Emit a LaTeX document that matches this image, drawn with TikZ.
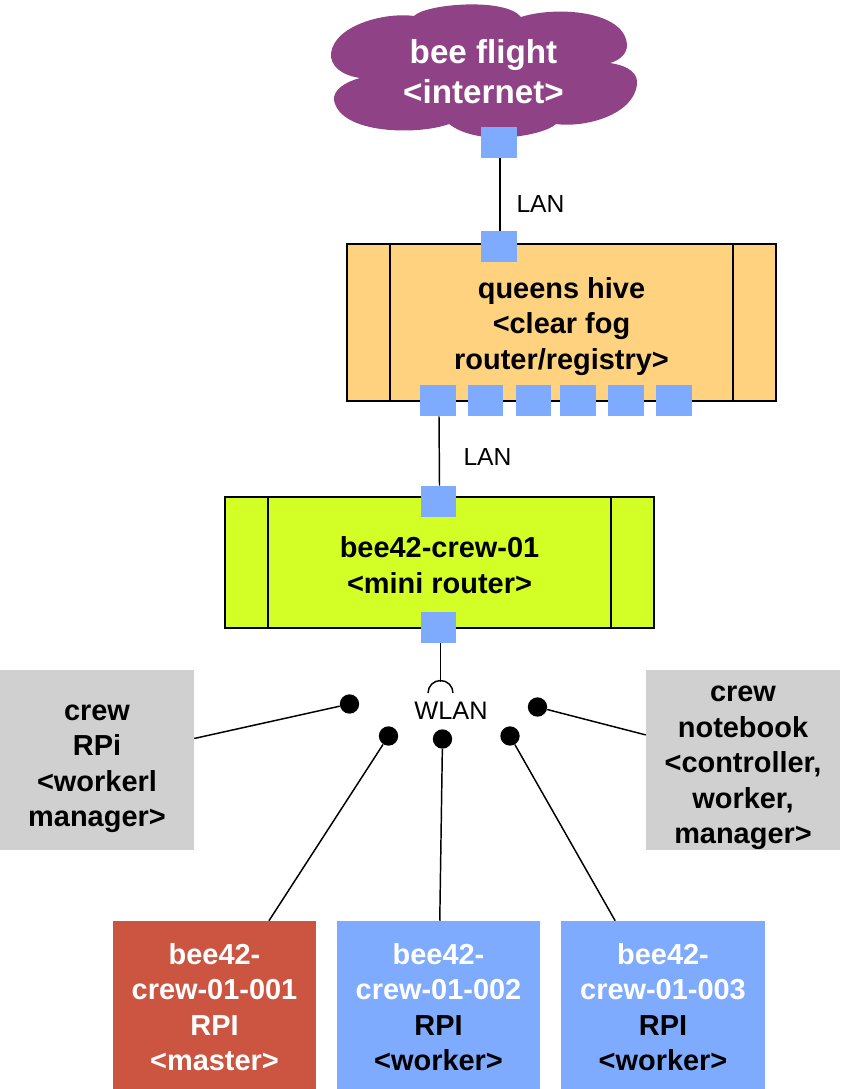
\documentclass[tikz,border=0pt]{standalone}
\usepackage{fontspec}
\setmainfont{Liberation Sans}
\definecolor{cloudpurple}{HTML}{8F4285}
\definecolor{portblue}{HTML}{7FABFF}
\definecolor{hiveorange}{HTML}{FFD27F}
\definecolor{routerlime}{HTML}{D4FF26}
\definecolor{crewgray}{HTML}{D0D0D0}
\definecolor{masterred}{HTML}{CB5540}
\newcommand{\pushtext}[1]{\rule{0pt}{#1}}
\begin{document}
\begin{tikzpicture}[
        x=0.75pt, y=-0.75pt,
        link/.style={draw, line width=1.1pt},
        port/.style={fill=portblue, minimum width=26.6pt, minimum height=23.4pt, inner sep=0pt},
        router/.style={draw, line width=1.1pt, align=center, inner sep=0pt, font=\fontsize{21.7}{26.6}\selectfont\bfseries},
        crew/.style={fill=crewgray, minimum width=145.5pt, minimum height=135pt, align=center, inner sep=0pt, font=\fontsize{21.7}{26.6}\selectfont\bfseries},
        bee/.style={minimum width=152.5pt, minimum height=126pt, align=center, inner sep=0pt, font=\fontsize{21.7}{26.6}\selectfont\bfseries},
        antenna/.style={circle, fill=black, minimum size=14.5pt, inner sep=0pt},
        netlabel/.style={inner sep=0pt, font=\fontsize{18.5}{21}\selectfont}
    ]
        \useasboundingbox (0,0) rectangle (841,1089);

        % Internet cloud
        \fill[cloudpurple] (414,16) .. controls (425,4) and (505,-3) .. (521,17)
            .. controls (555,6) and (625,10) .. (627,45)
            .. controls (627,54) and (620,60) .. (610,63)
            .. controls (630,66) and (638,74) .. (637,84)
            .. controls (634,115) and (585,128) .. (556,124)
            .. controls (545,135) and (480,148) .. (449,124)
            .. controls (420,135) and (340,135) .. (334,100)
            .. controls (333,90) and (345,82) .. (360,78)
            .. controls (340,75) and (330,65) .. (331,53)
            .. controls (335,25) and (385,12) .. (414,16) -- cycle;
        \node[align=center, inner sep=0pt, text=white, font=\fontsize{24.9}{30}\selectfont\bfseries] (flight) at (483.5,71.5) {bee flight\\<internet>};
        \node[port] (flightport) at (499,142.5) {};

        % Router boxes
        \node[router, fill=hiveorange, minimum width=321.75pt, minimum height=117.75pt] (hive) at (561.5,322.5) {\pushtext{21.2pt}queens hive\\<clear fog\\router/registry>};
        \draw[line width=1.1pt] (390,244) -- (390,401) (733,244) -- (733,401);
        \node[router, fill=routerlime, minimum width=321.75pt, minimum height=98.25pt] (mini) at (439.5,562.5) {\pushtext{19.6pt}bee42-crew-01\\<mini router>};
        \draw[line width=1.1pt] (268,497) -- (268,628) (611,497) -- (611,628);

        % Ports
        \node[port] (hivetop) at (499,246.5) {};
        \node[port] (hive1) at (438,400.5) {};
        \node[port] (hive2) at (485.5,400.5) {};
        \node[port] (hive3) at (533.5,400.5) {};
        \node[port] (hive4) at (578,400.5) {};
        \node[port] (hive5) at (626,400.5) {};
        \node[port] (hive6) at (674,400.5) {};
        \node[port] (minitop) at (438.5,501.5) {};
        \node[port] (minibottom) at (438.5,627.5) {};

        % WLAN access point
        \coordinate (wlantop) at (440.5,682);
        \node[netlabel, font=\fontsize{19}{21}\selectfont] (wlan) at (451,711) {WLAN};
        \draw[line width=1.1pt] (428,693) arc[start angle=180, end angle=360, radius=12.5];

        % Antennas
        \node[antenna] (rpidot) at (349.5,704) {};
        \node[antenna] (masterdot) at (388.5,736) {};
        \node[antenna] (worker2dot) at (442.5,739) {};
        \node[antenna] (worker3dot) at (510,736) {};
        \node[antenna] (notebookdot) at (537.5,707) {};

        % Crew machines
        \node[crew] (rpi) at (97,760) {\pushtext{25pt}crew\\RPi\\<workerl\\manager>};
        \node[crew] (notebook) at (743,760) {\pushtext{23.4pt}crew\\notebook\\<controller,\\worker,\\manager>};
        \node[bee, fill=masterred, text=white] (master) at (214.5,1005) {\pushtext{19pt}bee42-\\crew-01-001\\RPI\\<master>};
        \node[bee, fill=portblue] (worker2) at (438.5,1005) {\pushtext{19pt}\textcolor{white}{bee42-}\\\textcolor{white}{crew-01-002}\\RPI\\<worker>};
        \node[bee, fill=portblue] (worker3) at (663,1005) {\pushtext{19pt}\textcolor{white}{bee42-}\\\textcolor{white}{crew-01-003}\\RPI\\<worker>};

        % LAN labels
        \node[netlabel] (lanup) at (540.5,204) {LAN};
        \node[netlabel] (landown) at (487.5,457.5) {LAN};

        % Connections
        \draw[link] ([xshift=0.75pt]flightport.south) -- ([xshift=0.75pt]hivetop.north);
        \draw[link] ([xshift=0.75pt]hive1.south) -- ([xshift=0.75pt]minitop.north);
        \draw[link] (minibottom.south -| wlantop) -- (wlantop);
        \draw[link] (rpi) -- (rpidot);
        \draw[link] (master) -- (masterdot);
        \draw[link] (worker2) -- (worker2dot);
        \draw[link] (worker3) -- (worker3dot);
        \draw[link] (notebook) -- (notebookdot);
    \end{tikzpicture}
\end{document}
